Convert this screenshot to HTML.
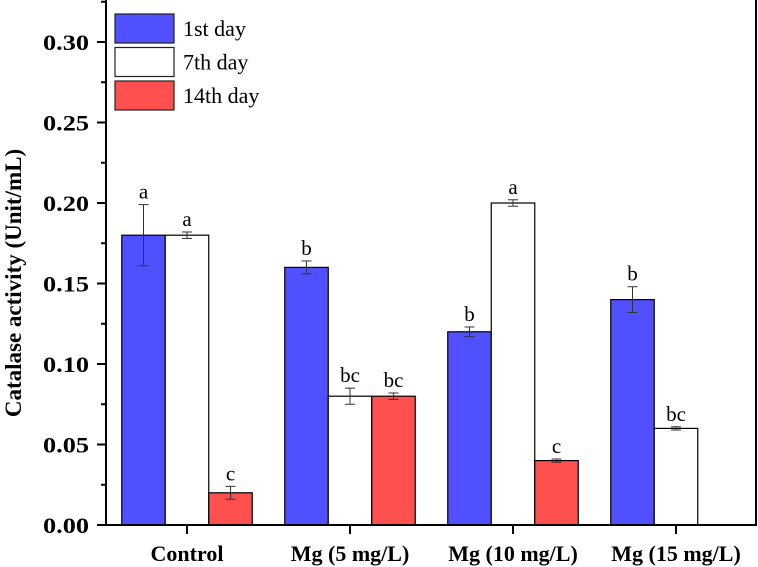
<!DOCTYPE html>
<html><head><meta charset="utf-8"><style>
body{margin:0;background:#fff}
svg{display:block}
text{font-family:"Times New Roman","Liberation Serif","DejaVu Serif",serif}
</style></head><body>
<svg id="c" width="758" height="567"></svg>
<script>
const categories=["Control","Mg (5 mg/L)","Mg (10 mg/L)","Mg (15 mg/L)"];
const seriesNames=["1st day","7th day","14th day"];
const day1=[0.18,0.16,0.12,0.14];
const day7=[0.18,0.08,0.20,0.06];
const day14=[0.02,0.08,0.04,null];
const err1=[0.019,0.004,0.003,0.008];
const err7=[0.002,0.005,0.002,0.001];
const err14=[0.004,0.002,0.001,null];
const lab1=["a","b","b","b"];
const lab7=["a","bc","a","bc"];
const lab14=["c","bc","c",""];
const yTicks=["0.00","0.05","0.10","0.15","0.20","0.25","0.30"];
const colors=["#5050ff","#ffffff","#ff5050"];
const NS="http://www.w3.org/2000/svg";
const svg=document.getElementById('c');
const L=106,R=756,T=0,B=525;
const y=v=>B-(v/0.30)*(B-42);
const gx=i=>187+i*163;
const bw=43.5;
function el(t,a,p){const e=document.createElementNS(NS,t);for(const k in a)e.setAttribute(k,a[k]);(p||svg).appendChild(e);return e;}
const series=[[day1,err1,lab1],[day7,err7,lab7],[day14,err14,lab14]];
series.forEach((s,si)=>{
  s[0].forEach((v,i)=>{
    if(v==null)return;
    const x=gx(i)+(si-1.5)*bw;
    const r=el('rect',{x:x,y:y(v),width:bw,height:B-y(v),fill:colors[si],stroke:'#000','stroke-width':1.2});
    
    
    const cx=x+bw/2,e=s[1][i];
    const g=el('g',{stroke:'#333','stroke-width':1});
    
    
    el('line',{x1:cx,x2:cx,y1:y(v+e),y2:y(v-e)},g);
    el('line',{x1:cx-5,x2:cx+5,y1:y(v+e),y2:y(v+e)},g);
    el('line',{x1:cx-5,x2:cx+5,y1:y(v-e),y2:y(v-e)},g);
    const t=el('text',{x:cx,y:y(v+e)-6,'text-anchor':'middle','font-size':21});
    t.textContent=s[2][i];
    
    
  });
});
const f=el('rect',{x:L,y:T-2,width:R-L,height:B-T+2,fill:'none',stroke:'#000','stroke-width':2});


yTicks.forEach((t,i)=>{
  const v=parseFloat(t),yy=y(v);
  el('line',{x1:L-9,x2:L,y1:yy,y2:yy,stroke:'#000','stroke-width':2});
  if(i<yTicks.length-1){const m=y(v+0.025);el('line',{x1:L-5,x2:L,y1:m,y2:m,stroke:'#000','stroke-width':2});}
  const tx=el('text',{x:L-17,y:yy+8,'text-anchor':'end','font-size':22,'font-weight':'bold',textLength:46,lengthAdjust:'spacingAndGlyphs'});
  tx.textContent=t;
  
  
});
{const m=y(0.325);if(m>0)el('line',{x1:L-5,x2:L,y1:m,y2:m,stroke:'#000','stroke-width':2});}
categories.forEach((c,i)=>{
  el('line',{x1:gx(i),x2:gx(i),y1:B,y2:B+9,stroke:'#000','stroke-width':2});
  const tx=el('text',{x:gx(i),y:561,'text-anchor':'middle','font-size':22,'font-weight':'bold'});
  tx.textContent=c;
  
  
});
const yt=el('text',{x:0,y:0,transform:'translate(21,283) rotate(-90)','text-anchor':'middle','font-size':23,'font-weight':'bold'});
yt.textContent="Catalase activity (Unit/mL)";


seriesNames.forEach((n,i)=>{
  const g=el('g',{});
  
  
  const yy=14+i*33.5;
  el('rect',{x:115,y:yy,width:59,height:29,fill:colors[i],stroke:'#222','stroke-width':1.2},g);
  const t=el('text',{x:183,y:yy+22,'font-size':22},g);
  t.textContent=n;
});
</script>
</body></html>
